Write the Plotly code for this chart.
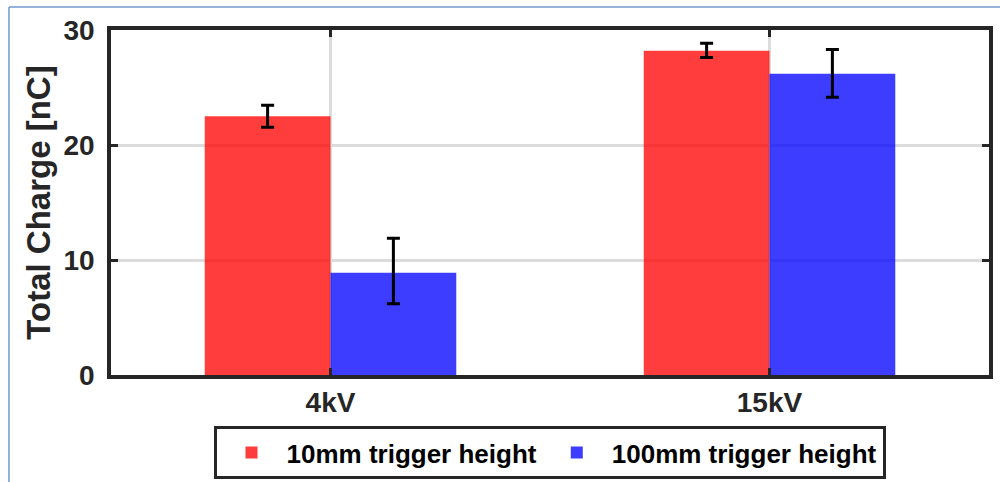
import plotly.graph_objects as go

# Total charge measurements per trigger voltage
voltages = ["4kV", "15kV"]
charge_10mm = [22.5, 28.2]
err_10mm_plus = [0.95, 0.65]
err_10mm_minus = [0.95, 0.6]
charge_100mm = [8.9, 26.2]
err_100mm_plus = [3.0, 2.1]
err_100mm_minus = [2.7, 2.05]

font_family = "Liberation Sans, Arial, sans-serif"
axis_color = "#262626"

fig = go.Figure()
fig.add_trace(go.Bar(
    x=voltages, y=charge_10mm, name="10mm trigger height",
    marker=dict(color="rgba(255,0,0,0.76)", line=dict(width=0)),
    error_y=dict(type="data", array=err_10mm_plus, arrayminus=err_10mm_minus,
                 symmetric=False, color="black", thickness=3, width=6.5),
))
fig.add_trace(go.Bar(
    x=voltages, y=charge_100mm, name="100mm trigger height",
    marker=dict(color="rgba(0,0,255,0.76)", line=dict(width=0)),
    error_y=dict(type="data", array=err_100mm_plus, arrayminus=err_100mm_minus,
                 symmetric=False, color="black", thickness=3, width=6.5),
))

fig.update_layout(
    width=1000, height=482,
    margin=dict(l=111, r=11, t=30, b=107, autoexpand=False),
    paper_bgcolor="white", plot_bgcolor="white",
    barmode="group", bargap=0.427, bargroupgap=0,
    font=dict(family=font_family, color=axis_color, size=20, weight="bold"),
    showlegend=True,
    legend=dict(
        orientation="h", xref="container", yref="container",
        x=0.5495, y=0.006, xanchor="center", yanchor="bottom",
        bordercolor="#262626", borderwidth=3, bgcolor="white",
        font=dict(size=26, color="black", weight="bold"),
        itemwidth=60,
    ),
    xaxis=dict(
        range=[-0.5, 1.5], showgrid=True, gridcolor="#dcdcdc", gridwidth=2.5,
        showline=True, linecolor=axis_color, linewidth=3.5, mirror="ticks",
        ticks="inside", ticklen=7, tickwidth=2.5, tickcolor=axis_color,
        tickfont=dict(size=28, weight="bold"), ticklabelstandoff=0,
        automargin=False,
    ),
    yaxis=dict(
        range=[0, 30], tickvals=[0, 10, 20, 30], showgrid=True,
        gridcolor="#dcdcdc", gridwidth=2.5, zeroline=False,
        showline=True, linecolor=axis_color, linewidth=3.5, mirror="ticks",
        ticks="inside", ticklen=7, tickwidth=2.5, tickcolor=axis_color,
        tickfont=dict(size=28, weight="bold"), ticklabelstandoff=7,
        automargin=False,
        title=dict(text="Total Charge [nC]", font=dict(size=33, weight="bold"), standoff=4),
    ),
    shapes=[
        dict(type="line", xref="paper", yref="paper", x0=-0.1162, x1=-0.1162,
             y0=1.0667, y1=-0.35, line=dict(color="#7398cc", width=1.5)),
        dict(type="line", xref="paper", yref="paper", x0=-0.1162, x1=1.02,
             y0=1.0667, y1=1.0667, line=dict(color="#7398cc", width=1.5)),
    ],
)

fig.write_html("out.html")
